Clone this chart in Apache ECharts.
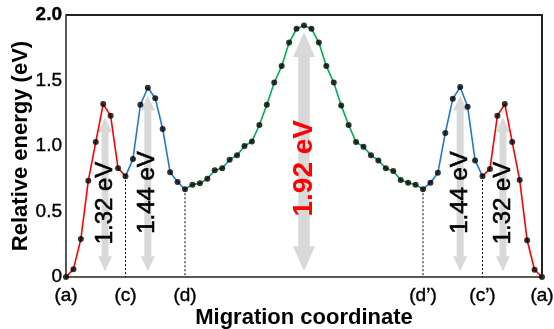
<!DOCTYPE html>
<html>
<head>
<meta charset="utf-8">
<script src="https://cdn.jsdelivr.net/npm/echarts@6/dist/echarts.min.js"></script>
<style>
  html, body { margin: 0; padding: 0; background: #fff; }
  #one { width: 554px; height: 329px; }
</style>
</head>
<body>
<div id="one"></div>
<script>
// energy along the migration path, one value per image (0..64)
var energy = [
  0, 0.06, 0.29, 0.735, 1.03, 1.32, 1.23, 0.83, 0.77,
  0.90, 1.315, 1.445, 1.365, 1.13, 0.80, 0.725, 0.67,
  0.705, 0.715, 0.75, 0.815, 0.83, 0.895, 0.93, 1.0, 1.035, 1.16, 1.315, 1.485, 1.61, 1.79, 1.895,
  1.92,
  1.895, 1.79, 1.61, 1.485, 1.31, 1.16, 1.03, 0.995, 0.93, 0.89, 0.83, 0.81, 0.74, 0.72, 0.705,
  0.67, 0.72, 0.795, 1.10, 1.36, 1.45, 1.30, 0.89, 0.77,
  0.825, 1.23, 1.32, 1.03, 0.74, 0.28, 0.055, 0
];
// segments of the path and their colours
var segStart = [0, 8, 16, 48, 56];
var segEnd = [8, 16, 48, 56, 64];
var segColor = ['#ff0000', '#1f78d4', '#00b050', '#1f78d4', '#ff0000'];
// x tick labels
var labelPos = [0, 8, 16, 48, 56, 64];
var labelText = ['(a)', '(c)', '(d)', '(d\u2019)', '(c\u2019)', '(a)'];
// dotted drop lines
var dropIdx = [8, 16, 48, 56];
// barrier arrows
var arrowX = [5.25, 11, 32, 53, 58.75];
var arrowTop = [1.22, 1.385, 1.87, 1.385, 1.22];
var arrowBottom = [0.043, 0.043, 0.043, 0.043, 0.043];
var arrowTextY = [0.565, 0.645, 0.83, 0.645, 0.565];
var arrowText = ['1.32 eV', '1.44 eV', '1.92 eV', '1.44 eV', '1.32 eV'];
// plot frame (top and right edges)
var frameX = [0, 64, 64];
var frameY = [2, 2, 0];

var FONT = "'Liberation Sans', Arial, sans-serif";
var myChart = echarts.init(document.getElementById('one'));

var series = [];

// arrows + labels
series.push({
  type: 'custom',
  z: 1,
  silent: true,
  data: arrowX.map(function (x, i) { return [x, arrowTop[i], arrowBottom[i], arrowTextY[i], i]; }),
  renderItem: function (params, api) {
    var i = api.value(4);
    var top = api.coord([api.value(0), api.value(1)]);
    var bot = api.coord([api.value(0), api.value(2)]);
    var ty = api.coord([api.value(0), api.value(3)])[1];
    var big = (i === 2);
    var sw = big ? 5.75 : 3.5;   // half shaft width
    var hw = big ? 11 : 7;       // half head width
    var hl = big ? 25 : 15;      // head length
    var x = top[0], y0 = top[1], y1 = bot[1];
    var pts = [
      [x - sw, y0 + hl], [x - hw, y0 + hl], [x, y0], [x + hw, y0 + hl], [x + sw, y0 + hl],
      [x + sw, y1 - hl], [x + hw, y1 - hl], [x, y1], [x - hw, y1 - hl], [x - sw, y1 - hl]
    ];
    var col = big ? '#ff0000' : '#000';
    return {
      type: 'group',
      children: [
        { type: 'polygon', shape: { points: pts }, style: { fill: '#d9d9d9' } },
        {
          type: 'text', x: x, y: ty, rotation: Math.PI / 2,
          style: {
            text: arrowText[i],
            fill: col,
            stroke: col, lineWidth: big ? 0 : 0.6,
            font: (big ? 'bold 28px ' : '24px ') + FONT,
            align: 'center', verticalAlign: 'middle'
          }
        }
      ]
    };
  }
});

// top/right frame
series.push({
  type: 'custom', z: 5, silent: true, clip: false,
  data: [[0, 0]],
  renderItem: function (params, api) {
    var pts = frameX.map(function (x, i) { return api.coord([x, frameY[i]]); });
    return {
      type: 'polyline',
      shape: { points: pts },
      style: { stroke: '#222', lineWidth: 2, fill: null }
    };
  }
});

// dotted drop lines
dropIdx.forEach(function (k) {
  series.push({
    type: 'line', z: 2, silent: true, symbol: 'none',
    data: [[k, energy[k]], [k, 0]],
    lineStyle: { color: '#000', width: 1, type: [2, 2] }
  });
});

// coloured path segments
segStart.forEach(function (s, j) {
  var pts = [];
  for (var k = s; k <= segEnd[j]; k++) pts.push([k, energy[k]]);
  series.push({
    type: 'line', z: 3, silent: true, symbol: 'none',
    data: pts,
    lineStyle: { color: segColor[j], width: 1.6 }
  });
});

// black dots
series.push({
  type: 'scatter', z: 4, silent: true,
  symbolSize: 6,
  itemStyle: { color: '#000' },
  data: energy.map(function (v, k) { return [k, v]; })
});

var tickText = {
  fontFamily: FONT, fontSize: 19, color: '#000',
  textBorderColor: '#000', textBorderWidth: 0.4
};

var option = {
  backgroundColor: '#fff',
  animation: false,
  grid: { left: 66, right: 12, top: 15, bottom: 52, outerBoundsMode: 'none', containLabel: false },
  xAxis: {
    type: 'value',
    min: 0, max: 64, interval: 8,
    name: 'Migration coordinate',
    nameLocation: 'middle',
    nameGap: 30,
    nameMoveOverlap: false,
    nameTextStyle: { fontFamily: FONT, fontSize: 22, fontWeight: 'bold', color: '#000' },
    axisLine: { lineStyle: { color: '#595959', width: 2 } },
    axisTick: { show: false },
    splitLine: { show: false },
    axisLabel: Object.assign({
      margin: 9,
      showMinLabel: true, showMaxLabel: true,
      formatter: function (v) {
        var j = labelPos.indexOf(Math.round(v));
        return j >= 0 ? labelText[j] : '';
      }
    }, tickText)
  },
  yAxis: {
    type: 'value',
    min: 0, max: 2, interval: 0.5,
    name: 'Relative energy (eV)',
    nameLocation: 'middle',
    nameGap: 34,
    nameMoveOverlap: false,
    nameTextStyle: { fontFamily: FONT, fontSize: 22, fontWeight: 'bold', color: '#000' },
    axisLine: { show: true, lineStyle: { color: '#595959', width: 2 } },
    axisTick: { show: false },
    splitLine: { show: false },
    axisLabel: Object.assign({
      margin: 4,
      formatter: function (v) {
        if (v === 0) return '0';
        if (v === 2) return '{b|2.0}';
        return v.toFixed(1);
      },
      rich: { b: { fontFamily: FONT, fontSize: 19, fontWeight: 'bold', color: '#000' } }
    }, tickText)
  },
  series: series
};

myChart.setOption(option, true);
</script>
</body>
</html>
